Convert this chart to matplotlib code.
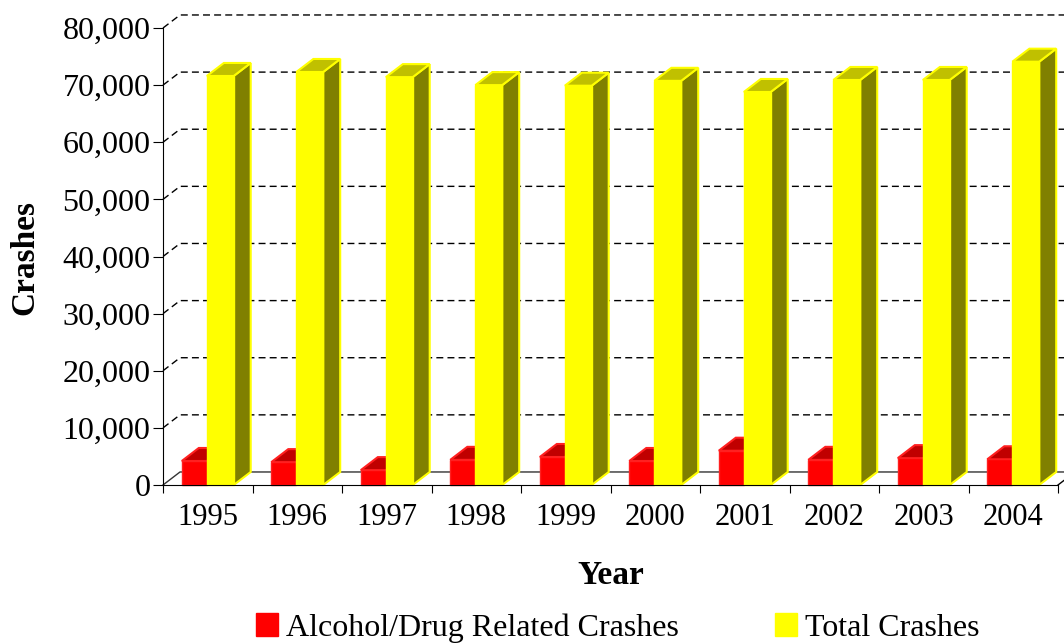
import numpy as np
import matplotlib.pyplot as plt
from matplotlib.patches import Polygon, Patch

years = ['1995', '1996', '1997', '1998', '1999', '2000', '2001', '2002', '2003', '2004']
alcohol = [4200, 4000, 2600, 4400, 4900, 4200, 6000, 4400, 4700, 4500]
total = [71600, 72300, 71400, 70000, 69900, 70750, 68800, 70900, 70900, 74100]

plt.rcParams['font.family'] = ['Liberation Serif', 'DejaVu Serif']

fig = plt.figure(figsize=(10.64, 6.44), dpi=100)
ax = fig.add_axes([163/1064, 1-485/644, 895/1064, 457/644])
ax.set_xlim(0, 10)
ax.set_ylim(0, 80000)

# depth offset of the fake 3d (x in category units, y in value units)
dx = 0.19
dy = 2280

# back wall grid lines
for v in range(10000, 80001, 10000):
    ax.plot([0, dx, 10.5], [v, v + dy, v + dy], color='black', lw=1,
            linestyle=(0, (5, 3)), clip_on=False, zorder=1)
# floor
ax.plot([0, dx, 10.5], [0, dy, dy], color='#333333', lw=1, clip_on=False, zorder=1)
ax.plot([10, 10 + dx], [0, dy], color='black', lw=1, clip_on=False, zorder=1)


def bar3d(x0, w, h, front, top, side, edge, z):
    ax.add_patch(Polygon([(x0 + w, 0), (x0 + w + dx, dy), (x0 + w + dx, h + dy), (x0 + w, h)],
                         closed=True, facecolor=side, edgecolor=edge, lw=1.5, zorder=z, clip_on=False))
    ax.add_patch(Polygon([(x0, h), (x0 + w, h), (x0 + w + dx, h + dy), (x0 + dx, h + dy)],
                         closed=True, facecolor=top, edgecolor=edge, lw=1.5, zorder=z, clip_on=False))
    ax.bar(x0, h, width=w, align='edge', color=front, edgecolor=edge, lw=1, zorder=z + 0.1, clip_on=False)


for i in range(len(years)):
    bar3d(i + 0.21, 0.28, alcohol[i], '#FF0000', '#C00000', '#800000', '#FF2020', 2 + i * 2)
    bar3d(i + 0.49, 0.30, total[i], '#FFFF00', '#C0C000', '#808000', '#FFFF00', 3 + i * 2)

for s in ['top', 'right']:
    ax.spines[s].set_visible(False)
ax.spines['left'].set_zorder(50)
ax.spines['bottom'].set_zorder(50)

ax.set_yticks(range(0, 80001, 10000))
ax.set_yticklabels(['{:,}'.format(v) for v in range(0, 80001, 10000)], fontsize=23)
ax.tick_params(axis='y', direction='out', length=7, pad=2)

ax.set_xticks(range(0, 11))
ax.set_xticklabels([])
ax.tick_params(axis='x', which='major', direction='out', length=6)
ax.set_xticks(np.arange(len(years)) + 0.5, minor=True)
ax.set_xticklabels(years, minor=True, fontsize=22)
ax.tick_params(axis='x', which='minor', length=0, pad=13)

fig.text(611/1064, 1 - 575/644, 'Year', fontsize=24, fontweight='bold', ha='center', va='center')
fig.text(25/1064, 1 - 257/644, 'Crashes', fontsize=24, fontweight='bold', ha='center', va='center',
         rotation=90)

handles = [Patch(facecolor='#FF0000', edgecolor='#FF0000'),
           Patch(facecolor='#FFFF00', edgecolor='#FFFF00')]
fig.legend(handles, ['Alcohol/Drug Related Crashes', 'Total Crashes'], ncol=2, frameon=False,
           loc='center', bbox_to_anchor=(618/1064, 1 - 628/644), fontsize=23,
           handlelength=0.7, handleheight=0.7, handletextpad=0.25, columnspacing=3.0,
           borderpad=0, borderaxespad=0)

fig.savefig('out.png', dpi=100)
